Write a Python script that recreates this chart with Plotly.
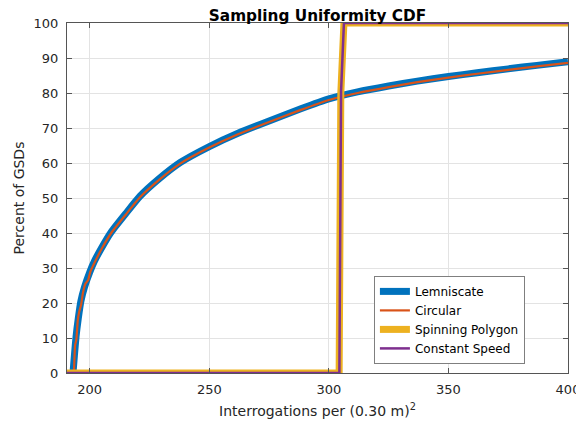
import plotly.graph_objects as go

# Lemniscate CDF (interrogations per (0.30 m)^2 vs percent of GSDs)
lem_x = [193.0, 193.6, 194.3, 195.2, 196.3, 197.8, 200.0, 202.0, 205.0, 209.0,
         215.0, 221.0, 229.0, 238.0, 250.0, 262.0, 275.0, 288.0, 300.0, 312.0,
         325.0, 337.0, 350.0, 362.0, 375.0, 387.0, 400.0]
lem_y = [0.0, 5.0, 10.5, 15.5, 20.5, 24.5, 28.8, 32.0, 35.8, 40.3,
         45.5, 50.5, 55.5, 60.2, 64.7, 68.5, 72.0, 75.4, 78.3, 80.3,
         82.0, 83.4, 84.7, 85.8, 86.9, 87.9, 88.9]

# Circular CDF
cir_x = [193.4, 193.9, 194.4, 195.0, 195.6, 196.4, 197.2, 198.2, 199.3, 200.3,
         202.0, 205.0, 209.0, 215.0, 221.0, 229.0, 238.0, 250.0, 262.0, 275.0,
         288.0, 300.0, 312.0, 325.0, 337.0, 350.0, 362.0, 375.0, 387.0, 400.0]
cir_y = [0.0, 8.0, 9.5, 15.0, 17.5, 19.5, 23.0, 25.5, 26.5, 29.0,
         31.5, 35.5, 40.0, 45.2, 50.2, 55.2, 59.9, 64.4, 68.2, 71.7,
         75.1, 78.0, 80.0, 81.7, 83.1, 84.4, 85.5, 86.6, 87.6, 88.6]

# Spinning Polygon CDF
poly_x = [185.0, 304.3, 305.0, 306.3, 410.0]
poly_y = [0.0, 0.0, 80.0, 100.0, 100.0]

# Constant Speed CDF
cs_x = [185.0, 304.4, 305.1, 306.3, 410.0]
cs_y = [0.0, 0.0, 80.5, 100.0, 100.0]

names = ["Lemniscate", "Circular", "Spinning Polygon", "Constant Speed"]
colors = ["#0072BD", "#D95319", "#EDB120", "#7E2F8E"]
widths = [7, 2.2, 7, 2.5]
shapes = ["spline", "spline", "linear", "linear"]
series = [(lem_x, lem_y), (cir_x, cir_y), (poly_x, poly_y), (cs_x, cs_y)]

x_ticks = [200, 250, 300, 350, 400]
y_ticks = list(range(0, 101, 10))

fig = go.Figure()
for (xs, ys), n, c, w, s in zip(series, names, colors, widths, shapes):
    fig.add_trace(go.Scatter(x=xs, y=ys, mode="lines", name=n,
                             line=dict(color=c, width=w, shape=s,
                                       smoothing=0.5)))

axis_common = dict(
    showline=True, linecolor="#555555", linewidth=1, mirror="ticks",
    ticks="inside", ticklen=5, tickcolor="#555555", automargin=False,
    showgrid=True, gridcolor="#e3e3e3", gridwidth=1, zeroline=False,
    tickfont=dict(family="DejaVu Sans", size=13, color="#262626"),
)

# the page body adds an 8 px offset, so the figure is 576x416
fig.update_layout(
    template="none",
    width=576, height=416,
    margin=dict(l=59, r=16, t=15, b=51, autoexpand=False),
    paper_bgcolor="white", plot_bgcolor="white",
    font=dict(family="DejaVu Sans", color="#262626"),
    title=dict(text="<b>Sampling Uniformity CDF</b>", x=0.5373, xanchor="center",
               y=0.9825, yanchor="middle",
               font=dict(family="DejaVu Sans", size=15.3, color="#000000")),
    xaxis=dict(range=[190.5, 400], tickvals=x_ticks, ticklabelstandoff=4,
               title=dict(text="Interrogations per (0.30 m)<sup>2</sup>",
                          font=dict(size=14, color="#262626"), standoff=10),
               **axis_common),
    yaxis=dict(range=[0, 100], tickvals=y_ticks, ticklabelstandoff=5,
               title=dict(text="Percent of GSDs",
                          font=dict(size=14, color="#262626"), standoff=5),
               **axis_common),
    showlegend=True,
    legend=dict(x=0.914, y=0.026, xanchor="right", yanchor="bottom",
                bgcolor="white", bordercolor="#7f7f7f", borderwidth=1,
                font=dict(family="DejaVu Sans", size=12, color="#000000"),
                tracegroupgap=0),
)

fig.write_html("out.html")
